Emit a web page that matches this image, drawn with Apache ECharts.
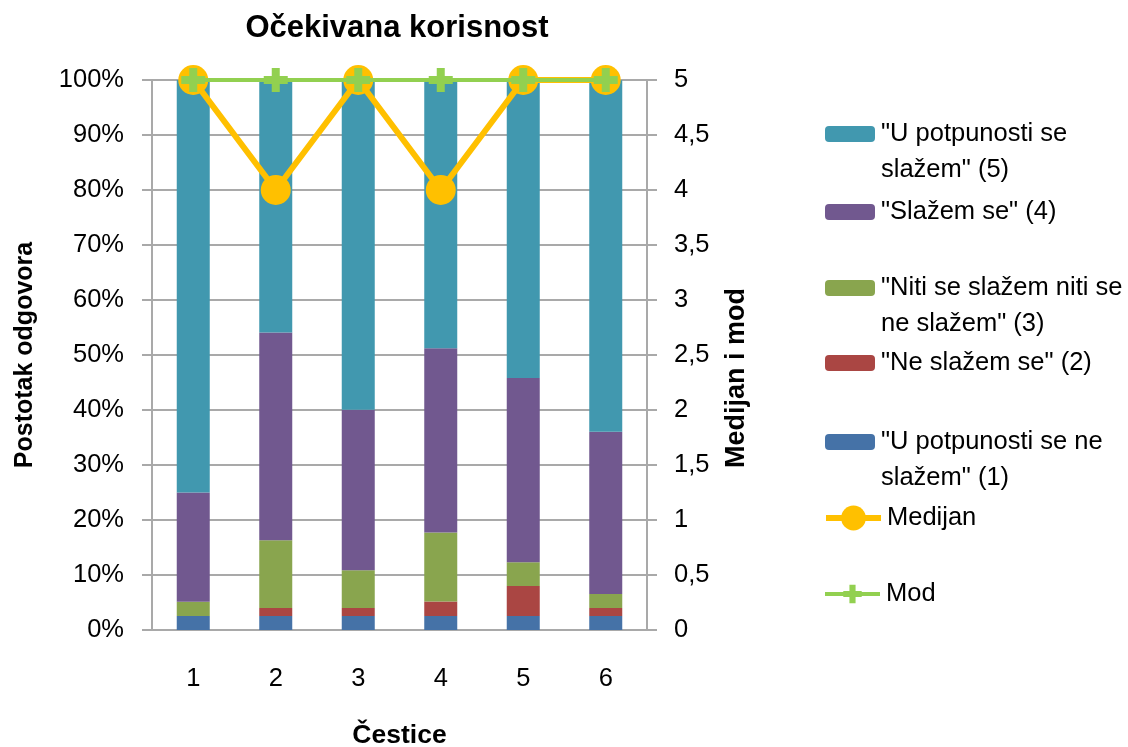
<!DOCTYPE html>
<html>
<head>
<meta charset="utf-8">
<title>Očekivana korisnost</title>
<script src="https://cdn.jsdelivr.net/npm/echarts@6/dist/echarts.min.js"></script>
<style>
    html, body { margin: 0; padding: 0; background: #fff; }
    #chart { width: 1128px; height: 747px; }
</style>
</head>
<body>
<div id="chart"></div>
<script>
// podaci - postotak odgovora po česticama
const categories = ['1', '2', '3', '4', '5', '6']
const nimalo = [2.56, 2.56, 2.56, 2.56, 2.56, 2.56]      // (1)
const neSlazem = [0, 1.45, 1.45, 2.6, 5.45, 1.45]        // (2)
const niti = [2.56, 12.3, 6.85, 12.55, 4.3, 2.55]        // (3)
const slazem = [19.9, 37.8, 29.2, 33.5, 33.5, 29.5]      // (4)
const potpuno = [75.0, 45.9, 59.9, 48.8, 54.2, 63.9]     // (5)
const medijan = [5, 4, 5, 4, 5, 5]
const mod = [5, 5, 5, 5, 5, 5]

const FONT = "'Liberation Sans', Arial, sans-serif"
const GRID_COLOR = '#a9a9a9'
const PLUS = 'path://M2,0H4V2H6V4H4V6H2V4H0V2H2Z'

const names = {
    s5: '"U potpunosti se slažem" (5)',
    s4: '"Slažem se" (4)',
    s3: '"Niti se slažem niti se ne slažem" (3)',
    s2: '"Ne slažem se" (2)',
    s1: '"U potpunosti se ne slažem" (1)',
    med: 'Medijan',
    mod: 'Mod'
}

// kako se tekst legende lomi u dva reda
const legendLines = {
    [names.s5]: ['"U potpunosti se', 'slažem" (5)'],
    [names.s3]: ['"Niti se slažem niti se', 'ne slažem" (3)'],
    [names.s1]: ['"U potpunosti se ne', 'slažem" (1)']
}

const legendFormatter = name => {
    const lines = legendLines[name]
    // prazan prvi red da ikona stoji uz prvi red teksta
    return lines ? '\n' + lines.join('\n') : name
}

const makeLegend = (name, top, extra) => Object.assign({
    data: [name],
    left: 825,
    top: top,
    padding: 0,
    itemWidth: 50,
    itemHeight: 16,
    selectedMode: false,
    formatter: legendFormatter,
    textStyle: { fontFamily: FONT, fontSize: 25.5, color: '#000', lineHeight: 36, padding: [0, 0, 0, 1] }
}, extra || {})

const barSeries = (name, data, color) => ({
    name: name,
    type: 'bar',
    stack: 'udio',
    barWidth: 33,
    data: data,
    itemStyle: { color: color },
    emphasis: { disabled: true }
})

const chart = echarts.init(document.getElementById('chart'))

const option = {
    backgroundColor: '#fff',
    animation: false,
    title: {
        text: 'Očekivana korisnost',
        left: 392,
        top: 8,
        textAlign: 'center',
        textStyle: { fontFamily: FONT, fontSize: 31, fontWeight: 'bold', color: '#000' }
    },
    legend: [
        makeLegend(names.s5, 80),
        makeLegend(names.s4, 194),
        makeLegend(names.s3, 234),
        makeLegend(names.s2, 345),
        makeLegend(names.s1, 388),
        makeLegend(names.med, 500, { left: 823, itemWidth: 55, itemHeight: 31, lineStyle: { width: 6 } }),
        makeLegend(names.mod, 576, { left: 823, itemWidth: 55, itemHeight: 23, lineStyle: { width: 4 } })
    ],
    grid: { left: 152, right: 481, top: 80, bottom: 117, outerBoundsMode: 'none' },
    xAxis: {
        type: 'category',
        data: categories,
        name: 'Čestice',
        nameLocation: 'middle',
        nameGap: 92,
        nameTextStyle: { fontFamily: FONT, fontSize: 26.5, fontWeight: 'bold', color: '#000' },
        axisLine: { lineStyle: { color: GRID_COLOR, width: 2 } },
        axisTick: { length: 10, lineStyle: { color: GRID_COLOR, width: 2 } },
        axisLabel: { margin: 36, fontFamily: FONT, fontSize: 25.5, color: '#000' }
    },
    yAxis: [
        {
            type: 'value',
            min: 0,
            max: 100,
            interval: 10,
            name: 'Postotak odgovora',
            nameLocation: 'middle',
            nameRotate: 90,
            nameGap: 114,
            nameTextStyle: { fontFamily: FONT, fontSize: 25, fontWeight: 'bold', color: '#000' },
            axisLine: { show: true, lineStyle: { color: GRID_COLOR, width: 2 } },
            axisTick: { show: true, length: 10, lineStyle: { color: GRID_COLOR, width: 2 } },
            splitLine: { lineStyle: { color: GRID_COLOR, width: 2 } },
            axisLabel: { formatter: '{value}%', margin: 28, fontFamily: FONT, fontSize: 25.5, color: '#000' }
        },
        {
            type: 'value',
            min: 0,
            max: 5,
            interval: 0.5,
            name: 'Medijan i mod',
            nameLocation: 'middle',
            nameRotate: 90,
            nameGap: 76,
            nameTextStyle: { fontFamily: FONT, fontSize: 27, fontWeight: 'bold', color: '#000', padding: [0, 46, 0, 0] },
            axisLine: { show: true, lineStyle: { color: GRID_COLOR, width: 2 } },
            axisTick: { show: true, length: 10, lineStyle: { color: GRID_COLOR, width: 2 } },
            splitLine: { show: false },
            axisLabel: {
                margin: 27,
                fontFamily: FONT,
                fontSize: 25.5,
                color: '#000',
                formatter: v => String(v).replace('.', ',')
            }
        }
    ],
    series: [
        barSeries(names.s1, nimalo, '#4572A7'),
        barSeries(names.s2, neSlazem, '#AA4643'),
        barSeries(names.s3, niti, '#89A54E'),
        barSeries(names.s4, slazem, '#71588F'),
        barSeries(names.s5, potpuno, '#4198AF'),
        {
            name: names.med,
            type: 'line',
            yAxisIndex: 1,
            data: medijan,
            symbol: 'circle',
            symbolSize: 30,
            lineStyle: { color: '#FFC000', width: 6 },
            itemStyle: { color: '#FFC000' },
            emphasis: { disabled: true },
            z: 3
        },
        {
            name: names.mod,
            type: 'line',
            yAxisIndex: 1,
            data: mod,
            symbol: PLUS,
            symbolSize: 24,
            lineStyle: { color: '#92D050', width: 4 },
            itemStyle: { color: '#92D050' },
            emphasis: { disabled: true },
            z: 4
        }
    ]
}

chart.setOption(option)
</script>
</body>
</html>
